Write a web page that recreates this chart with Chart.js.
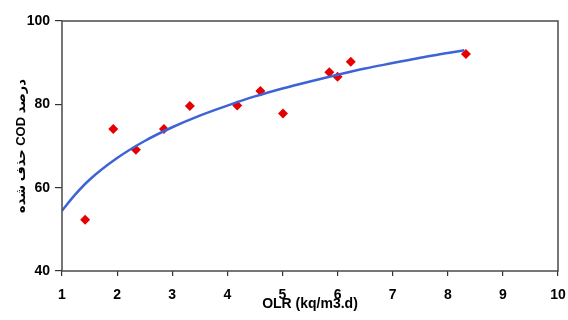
<!DOCTYPE html>
<html>
<head>
<meta charset="utf-8">
<script src="https://cdn.jsdelivr.net/npm/chart.js@4/dist/chart.umd.min.js"></script>
<style>
  html, body { margin: 0; padding: 0; background: #ffffff; }
  #c { display: block; }
</style>
</head>
<body>
<canvas id="c" width="568" height="320"></canvas>
<script>
// Measured points
const olrValues = [1.42, 1.93, 2.34, 2.85, 3.32, 4.18, 4.6, 5.01, 5.85, 6.0, 6.24, 8.33];
const codRemoval = [52.3, 74.1, 69.1, 74.1, 79.6, 79.7, 83.2, 77.8, 87.7, 86.6, 90.2, 92.1];
// Trend curve
const trendX = [1, 1.25, 1.5, 2, 2.5, 3, 3.5, 4, 4.5, 5, 5.5, 6, 6.5, 7, 7.5, 8, 8.3];
const trendY = [54.5, 58.5, 61.9, 67.1, 71.2, 74.5, 77.3, 79.7, 81.9, 83.8, 85.5, 87.1, 88.6, 89.9, 91.2, 92.3, 93.0];
// Axes
const xTicks = [1, 2, 3, 4, 5, 6, 7, 8, 9, 10];
const yTicks = [40, 60, 80, 100];
const xTitle = 'OLR (kq/m3.d)';
const yTitle = '\u202Bدرصد COD حذف شده\u202C';

const fontFamily = "'Liberation Sans', Arial, 'DejaVu Sans', sans-serif";

const borderPlugin = {
  id: 'plotBorder',
  afterDraw(chart) {
    const { ctx, chartArea: a } = chart;
    ctx.save();
    ctx.strokeStyle = '#4a4a4a';
    ctx.lineWidth = 1.5;
    ctx.strokeRect(a.left, a.top, a.right - a.left, a.bottom - a.top);
    ctx.restore();
  }
};

new Chart(document.getElementById('c'), {
  type: 'scatter',
  data: {
    datasets: [
      {
        label: 'trend',
        data: trendX.map((x, i) => ({ x: x, y: trendY[i] })),
        showLine: true,
        borderColor: '#3d63d6',
        borderWidth: 2.5,
        pointRadius: 0,
        cubicInterpolationMode: 'monotone',
        fill: false
      },
      {
        label: 'data',
        data: olrValues.map((x, i) => ({ x: x, y: codRemoval[i] })),
        pointStyle: 'rectRot',
        pointRadius: 5,
        backgroundColor: '#e60000',
        borderColor: '#e60000',
        borderWidth: 0
      }
    ]
  },
  options: {
    responsive: false,
    animation: false,
    layout: { padding: { left: 0, right: 0, top: 21, bottom: 0 } },
    plugins: { legend: { display: false }, tooltip: { enabled: false } },
    scales: {
      x: {
        type: 'linear',
        min: 1,
        max: 10,
        afterBuildTicks(scale) { scale.ticks = xTicks.map(v => ({ value: v })); },
        afterFit(scale) { scale.height = 49; scale.paddingRight = 10; },
        border: { display: false },
        grid: { display: true, drawOnChartArea: false, tickLength: 5, color: '#333', lineWidth: 1.2 },
        ticks: { color: '#000', padding: 11, maxRotation: 0, font: { family: fontFamily, size: 14, weight: 'bold' } },
        title: { display: true, text: xTitle, color: '#000', padding: { top: 0, bottom: 7 }, font: { family: fontFamily, size: 14, weight: 'bold' } }
      },
      y: {
        type: 'linear',
        min: 40,
        max: 100,
        afterBuildTicks(scale) { scale.ticks = yTicks.map(v => ({ value: v })); },
        afterFit(scale) { scale.width = 62; },
        border: { display: false },
        grid: { display: true, drawOnChartArea: false, tickLength: 7, color: '#333', lineWidth: 1.2 },
        ticks: { color: '#000', padding: 5, font: { family: fontFamily, size: 14, weight: 'bold' } },
        title: { display: true, text: yTitle, color: '#000', padding: { top: 14, bottom: 0 }, font: { family: fontFamily, size: 13, weight: 'bold' } }
      }
    }
  },
  plugins: [borderPlugin]
});
</script>
</body>
</html>
